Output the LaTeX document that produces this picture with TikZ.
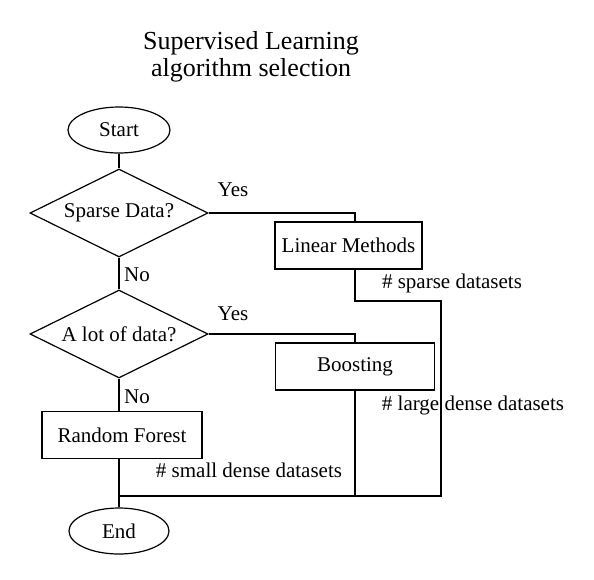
\documentclass[tikz,border=0pt]{standalone}
\usepackage{fontspec}
\setmainfont{Liberation Serif}
\usepackage{tikz}
\usetikzlibrary{shapes.geometric}

\begin{document}
\begin{tikzpicture}[x=0.5pt,y=-0.5pt,line width=0.6pt,
	every node/.style={font=\fontsize{10.5}{12}\selectfont},
	terminal/.style={shape=ellipse,draw,inner sep=0pt,minimum width=51pt,minimum height=23pt},
	decision/.style={shape=diamond,draw,aspect=2,inner sep=0pt,minimum width=89pt,minimum height=44pt},
	process/.style={shape=rectangle,draw,inner sep=0pt,minimum height=23.5pt},
	note/.style={inner sep=0pt}]
%	\draw[help lines,step=50] (0,0) grid (594,579);
	\useasboundingbox (0,0) rectangle (594,579);
	\node (title) at (251,57)[align=center,font=\fontsize{13}{13.5}\selectfont]{Supervised Learning\\algorithm selection};
	\node (start) at (119,130)[terminal]{Start};
	\node (sparse) at (119,213)[decision]{Sparse Data?};
	\node (lot) at (119,334)[decision]{A lot of data?};
	\node (forest) at (122,435)[process,minimum width=80pt]{Random Forest};
	\node (linear) at (348.5,245.5)[process,minimum width=73.5pt]{Linear Methods};
	\node (boost) at (355,366.5)[process,minimum width=79.5pt]{Boosting};
	\node (end) at (119,531)[terminal,minimum width=50pt]{End};
	\coordinate (rbus) at (441,301);
	\coordinate (join) at (119,496);
	% labels
	\node (yes1) at (233,190)[note]{Yes};
	\node (yes2) at (233,314)[note]{Yes};
	\node (no1) at (137,275)[note]{No};
	\node (no2) at (137,397)[note]{No};
	\node (nsparse) at (452,283)[note]{\# sparse datasets};
	\node (nlarge) at (473,405)[note]{\# large dense datasets};
	\node (nsmall) at (249,470)[note]{\# small dense datasets};
	% connectors
	\draw (start) -- (sparse);
	\draw (sparse) -- (lot);
	\draw (lot.south) -- (lot.south |- forest.north);
	\draw (sparse.east) -| ([xshift=3.25pt]linear.north);
	\draw ([xshift=3.25pt]linear.south) |- (rbus) |- (join);
	\draw (lot.east) -| (boost.north);
	\draw (boost.south) -- (boost.south |- join);
	\draw (forest.south -| join) -- (join) -- (end);
\end{tikzpicture}
\end{document}
